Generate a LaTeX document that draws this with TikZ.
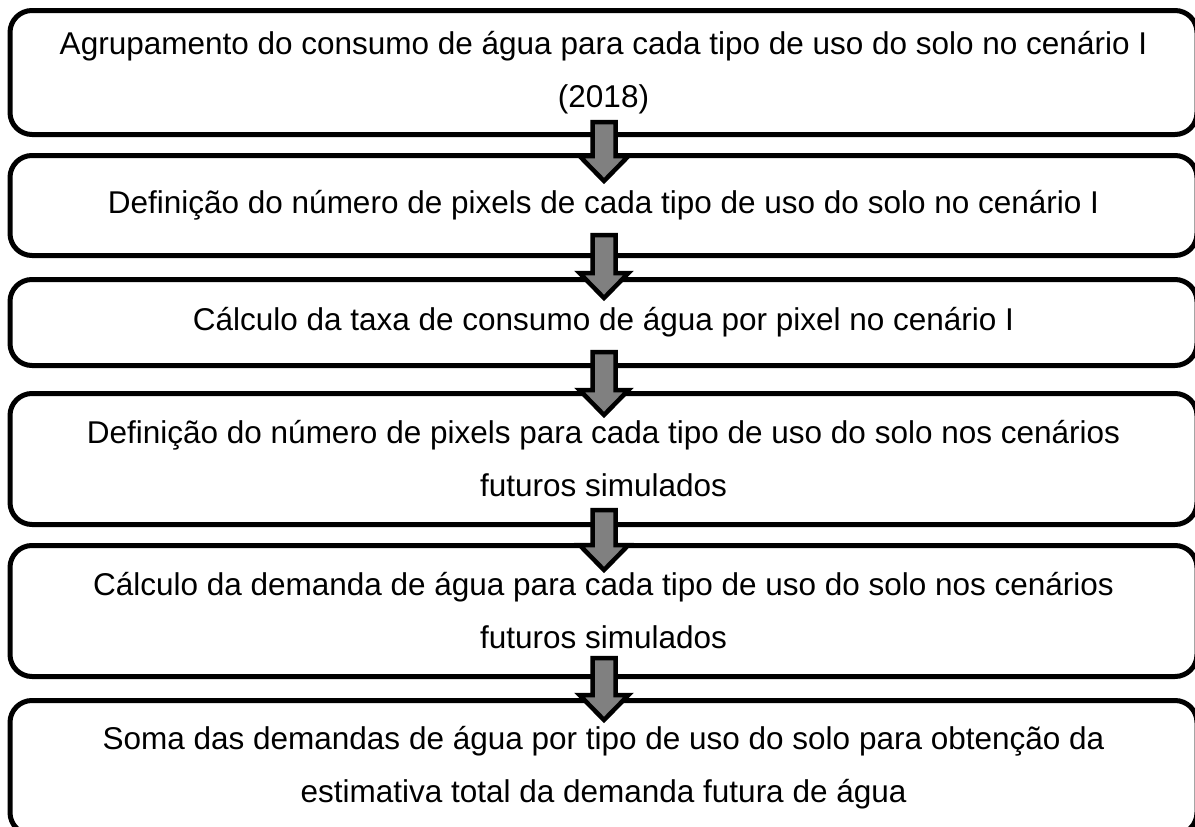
\documentclass[tikz,border=0pt]{standalone}
\usepackage{fontspec}
\setmainfont{Liberation Sans}
\usetikzlibrary{calc}
\newcommand\blockarrow[2]{%
  \draw[barrow] ($(#1)+(-11.5,0)$) -- ($(#2)+(-11.5,-25)$) -- ($(#2)+(-24.5,-25)$) -- (#2)
    -- ($(#2)+(24.5,-25)$) -- ($(#2)+(11.5,-25)$) -- ($(#1)+(11.5,0)$) -- cycle;}
\begin{document}
\begin{tikzpicture}[x=1pt,y=-1pt,
  box/.style={draw=black, line width=5pt, rounded corners=22pt, minimum width=1187pt,
    anchor=north, align=center, font=\fontsize{31.5}{53}\selectfont, inner sep=0pt},
  barrow/.style={draw=black, line width=4.5pt, fill=gray, line join=miter}]
\useasboundingbox (0,0) rectangle (1195,827);
\clip (0,0) rectangle (1195,827);
\node[box, minimum height=124pt] (b1) at (603.5,8) {Agrupamento do consumo de água para cada tipo de uso do solo no cenário I\\(2018)};
\node[box, minimum height=100pt] (b2) at (603.5,153) {Definição do número de pixels de cada tipo de uso do solo no cenário I};
\node[box, minimum height=86pt] (b3) at (603.5,277) {Cálculo da taxa de consumo de água por pixel no cenário I};
\node[box, minimum height=131pt] (b4) at (603.5,391) {Definição do número de pixels para cada tipo de uso do solo nos cenários\\futuros simulados};
\node[box, minimum height=131pt] (b5) at (603.5,543) {Cálculo da demanda de água para cada tipo de uso do solo nos cenários\\futuros simulados};
\node[box, minimum height=134pt] (b6) at (603.5,698) {Soma das demandas de água por tipo de uso do solo para obtenção da\\estimativa total da demanda futura de água};
\coordinate (a1s) at ($(b1.south)+(0.5,-15)$);
\coordinate (a1t) at ($(b2.north)+(0.5,28)$);
\coordinate (a2s) at ($(b2.south)+(0.5,-23)$);
\coordinate (a2t) at ($(b3.north)+(0.5,21)$);
\coordinate (a3s) at ($(b3.south)+(0.5,-16)$);
\coordinate (a3t) at ($(b4.north)+(0.5,24)$);
\coordinate (a4s) at ($(b4.south)+(0.5,-17)$);
\coordinate (a4t) at ($(b5.north)+(0.5,27)$);
\coordinate (a5s) at ($(b5.south)+(0.5,-21)$);
\coordinate (a5t) at ($(b6.north)+(0.5,22)$);
\blockarrow{a1s}{a1t}
\blockarrow{a2s}{a2t}
\blockarrow{a3s}{a3t}
\blockarrow{a4s}{a4t}
\blockarrow{a5s}{a5t}
\end{tikzpicture}
\end{document}
